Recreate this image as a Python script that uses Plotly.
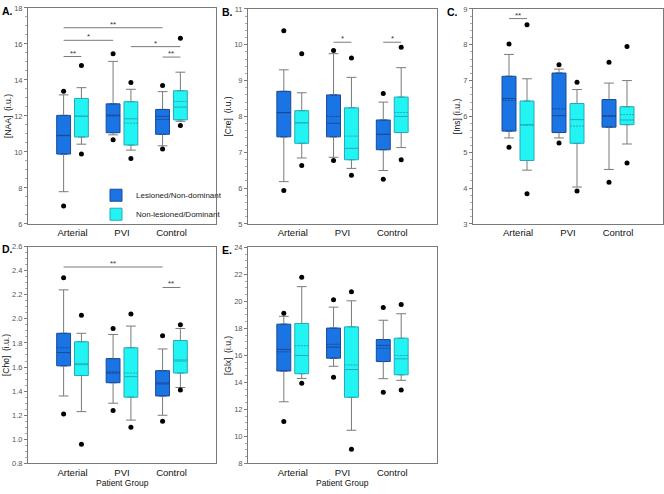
import plotly.graph_objects as go

groups = ["Arterial", "PVI", "Control"]
series_names = ["Lesioned/Non-dominant", "Non-lesioned/Dominant"]

# stats per group: [lower whisker, q1, median, q3, upper whisker, mean]
naa_les = [[7.79, 9.88, 10.92, 12.03, 13.17, 10.90], [10.95, 11.07, 12.04, 12.67, 15.03, 12.00], [10.34, 10.98, 11.98, 12.36, 13.35, 11.80]]
naa_non = [[10.43, 10.83, 11.98, 12.97, 13.57, 12.00], [10.10, 10.38, 11.84, 12.79, 13.48, 11.60], [11.70, 11.78, 12.49, 13.40, 14.43, 12.80]]
naa_les_out = [[13.37, 7.0], [15.46, 10.67], [13.69, 10.16]]
naa_non_out = [[14.80, 9.88], [13.86, 9.63], [16.32, 11.47]]

cre_les = [[6.18, 7.43, 8.11, 8.70, 9.30, 8.10], [6.86, 7.43, 7.81, 8.60, 9.75, 8.00], [6.49, 7.07, 7.50, 7.90, 8.40, 7.50]]
cre_non = [[6.84, 7.25, 7.82, 8.16, 8.66, 7.82], [6.55, 6.79, 7.11, 8.24, 9.09, 7.45], [7.13, 7.55, 8.00, 8.54, 9.36, 8.11]]
cre_les_out = [[10.39, 5.93], [9.84, 6.77], [8.64, 6.25]]
cre_non_out = [[9.75, 6.63], [9.63, 6.36], [9.93, 6.79]]

ins_les = [[5.40, 5.59, 6.50, 7.12, 7.73, 6.45], [5.40, 5.55, 6.02, 7.21, 7.32, 6.21], [4.52, 5.70, 6.02, 6.47, 6.93, 6.00]]
ins_non = [[4.50, 4.77, 5.77, 6.43, 7.05, 5.75], [4.03, 5.25, 5.91, 6.36, 6.75, 5.73], [5.23, 5.77, 5.90, 6.27, 7.00, 6.05]]
ins_les_out = [[8.02, 5.14], [7.44, 5.26], [7.51, 4.16]]
ins_non_out = [[8.56, 3.84], [6.95, 3.92], [7.95, 4.70]]

cho_les = [[1.36, 1.61, 1.72, 1.88, 2.24, 1.76], [1.30, 1.47, 1.55, 1.67, 1.87, 1.56], [1.20, 1.36, 1.46, 1.57, 1.75, 1.47]]
cho_non = [[1.23, 1.53, 1.62, 1.81, 1.88, 1.63], [1.16, 1.35, 1.52, 1.76, 1.94, 1.55], [1.43, 1.55, 1.65, 1.82, 1.92, 1.66]]
cho_les_out = [[2.34, 1.21], [1.92, 1.24], [1.86, 1.15]]
cho_non_out = [[2.03, 0.96], [2.04, 1.10], [1.95, 1.41]]

glx_les = [[12.57, 14.85, 16.45, 18.32, 18.90, 16.27], [15.20, 15.80, 16.62, 18.03, 19.58, 16.83], [14.28, 15.55, 16.75, 17.18, 18.61, 16.54]]
glx_non = [[14.30, 14.65, 16.00, 18.37, 21.10, 16.72], [10.46, 12.90, 14.96, 18.12, 20.05, 15.30], [14.16, 14.57, 15.75, 17.28, 19.09, 16.00]]
glx_les_out = [[19.12, 11.10], [20.12, 14.38], [19.55, 13.27]]
glx_non_out = [[21.80, 13.95], [20.72, 9.05], [19.77, 13.45]]

# significance: [from group, from series, to group, to series, y, label]
naa_sig = [[0, 0, 2, 0, 16.9, "**"], [0, 0, 1, 0, 16.2, "*"], [0, 0, 0, 1, 15.3, "**"],
           [1, 1, 2, 1, 15.85, "*"], [2, 0, 2, 1, 15.27, "**"]]
cre_sig = [[1, 0, 1, 1, 10.07, "*"], [2, 0, 2, 1, 10.07, "*"]]
ins_sig = [[0, 0, 0, 1, 8.73, "**"]]
cho_sig = [[0, 0, 2, 0, 2.43, "**"], [2, 0, 2, 1, 2.26, "**"]]
glx_sig = []

panels = [
    dict(letter="A.", ytitle="[NAA]  (i.u.)", yrange=[6, 18], dtick=2, minor=0.5, fmt="",
         les=naa_les, non=naa_non, les_out=naa_les_out, non_out=naa_non_out, sig=naa_sig,
         xdom=[28, 216], ydom=[4, 224], xtitle=None),
    dict(letter="B.", ytitle="[Cre]  (i.u.)", yrange=[5, 11], dtick=1, minor=0.2, fmt="",
         les=cre_les, non=cre_non, les_out=cre_les_out, non_out=cre_non_out, sig=cre_sig,
         xdom=[248, 437], ydom=[5, 224], xtitle=None),
    dict(letter="C.", ytitle="[Ins] (i.u.)", yrange=[3, 9], dtick=1, minor=0.2, fmt="",
         les=ins_les, non=ins_non, les_out=ins_les_out, non_out=ins_non_out, sig=ins_sig,
         xdom=[473, 663], ydom=[5, 224], xtitle=None),
    dict(letter="D.", ytitle="[Cho]  (i.u.)", yrange=[0.8, 2.6], dtick=0.2, minor=0.05, fmt=".1f",
         les=cho_les, non=cho_non, les_out=cho_les_out, non_out=cho_non_out, sig=cho_sig,
         xdom=[28, 216], ydom=[247, 468], xtitle="Patient Group"),
    dict(letter="E.", ytitle="[Glx]  (i.u.)", yrange=[8, 24], dtick=2, minor=0.5, fmt="",
         les=glx_les, non=glx_non, les_out=glx_les_out, non_out=glx_non_out, sig=glx_sig,
         xdom=[248, 437], ydom=[248, 468], xtitle="Patient Group"),
]

W, H = 664, 494
OFF = 0.18
BOXW = 0.28
fills = ["#1b74e4", "#22f4f4"]
lines = ["#1a4a93", "#2aa8b8"]
GRAY = "#7a7a7a"
FONT = "Liberation Sans, Arial, sans-serif"

fig = go.Figure()
layout = dict(width=W, height=H, margin=dict(l=0, r=0, t=0, b=0),
              paper_bgcolor="white", plot_bgcolor="white",
              font=dict(family=FONT, size=10, color="#222"),
              showlegend=True, shapes=[], annotations=[])

for i, p in enumerate(panels):
    n = "" if i == 0 else str(i + 1)
    xa, ya = "x" + n, "y" + n
    for s, (stats, outs) in enumerate([(p["les"], p["les_out"]), (p["non"], p["non_out"])]):
        pos = [g + (-OFF if s == 0 else OFF) for g in range(len(groups))]
        q1 = [r[1] for r in stats]
        med = [r[2] for r in stats]
        q3 = [r[3] for r in stats]
        lo = [r[0] for r in stats]
        hi = [r[4] for r in stats]
        mean = [r[5] for r in stats]
        fig.add_trace(go.Box(
            x=pos, q1=q1, median=med, q3=q3, lowerfence=q1, upperfence=q3, mean=mean,
            boxmean=True, width=BOXW, fillcolor=fills[s],
            line=dict(color=lines[s], width=1), name=series_names[s],
            showlegend=(i == 0), boxpoints=False,
            hoverinfo="skip", xaxis=xa, yaxis=ya))
        # whiskers
        wx, wy = [], []
        for k in range(len(groups)):
            wx += [pos[k], pos[k], None, pos[k], pos[k], None]
            wy += [q3[k], hi[k], None, q1[k], lo[k], None]
        fig.add_trace(go.Scatter(x=wx, y=wy, mode="lines", line=dict(color=GRAY, width=1),
                                 showlegend=False, hoverinfo="skip", xaxis=xa, yaxis=ya))
        # caps
        fig.add_trace(go.Scatter(x=pos + pos, y=hi + lo, mode="markers",
                                 marker=dict(symbol="line-ew", size=7, line=dict(width=1, color=GRAY)),
                                 showlegend=False, hoverinfo="skip", xaxis=xa, yaxis=ya))
        # outliers
        ox, oy = [], []
        for k in range(len(groups)):
            for v in outs[k]:
                ox.append(pos[k])
                oy.append(v)
        fig.add_trace(go.Scatter(x=ox, y=oy, mode="markers",
                                 marker=dict(color="black", size=5),
                                 showlegend=False, hoverinfo="skip", xaxis=xa, yaxis=ya))
    # significance
    for g0, s0, g1, s1, yv, lab in p["sig"]:
        x0 = g0 + (-OFF if s0 == 0 else OFF)
        x1 = g1 + (-OFF if s1 == 0 else OFF)
        layout["shapes"].append(dict(type="line", xref=xa, yref=ya, x0=x0, x1=x1, y0=yv, y1=yv,
                                     line=dict(color=GRAY, width=1)))
        layout["annotations"].append(dict(xref=xa, yref=ya, x=(x0 + x1) / 2, y=yv, text=lab,
                                          showarrow=False, yanchor="bottom", yshift=-3,
                                          font=dict(size=8, color="#333")))
    x0p, x1p = p["xdom"]
    y0p, y1p = p["ydom"]
    layout["xaxis" + n] = dict(domain=[x0p / W, x1p / W], anchor=ya, range=[-0.9, 2.9],
                               tickvals=list(range(len(groups))), ticktext=groups,
                               showline=True, mirror=True, linecolor=GRAY, linewidth=1,
                               showgrid=False, zeroline=False, ticks="", ticklen=0,
                               tickfont=dict(size=9.5, color="#111"))
    if p["xtitle"]:
        layout["annotations"].append(dict(xref="paper", yref="paper", x=(x0p + x1p) / 2 / W,
                                          y=1 - 488 / H, text=p["xtitle"], showarrow=False,
                                          xanchor="center", yanchor="middle",
                                          font=dict(size=8.5, color="#111")))
    layout["yaxis" + n] = dict(domain=[1 - y1p / H, 1 - y0p / H], anchor=xa, range=p["yrange"],
                               dtick=p["dtick"], tickformat=p["fmt"], showline=True, mirror=True,
                               linecolor=GRAY, linewidth=1, showgrid=False, zeroline=False,
                               ticks="outside", ticklen=3, tickcolor=GRAY,
                               minor=dict(dtick=p["minor"], ticks="outside", ticklen=2, tickcolor="#aaa"),
                               tickfont=dict(size=7.5, color="#555"),
                               title=dict(text=p["ytitle"], font=dict(size=8.5, color="#111"), standoff=1))
    layout["annotations"].append(dict(xref="paper", yref="paper", x=(x0p - 28) / W, y=1 - (y0p + 3) / H,
                                      text="<b>" + p["letter"] + "</b>", showarrow=False,
                                      xanchor="left", yanchor="middle", font=dict(size=10.5, color="black")))

layout["legend"] = dict(x=96 / W, y=1 - 180 / H, xanchor="left", yanchor="top",
                        bgcolor="rgba(0,0,0,0)", font=dict(size=8, color="#222"),
                        itemwidth=30, tracegroupgap=0)
fig.update_layout(**layout)
fig.write_html("out.html", config={"displayModeBar": False},
               post_script="document.body.style.margin='0px';")
